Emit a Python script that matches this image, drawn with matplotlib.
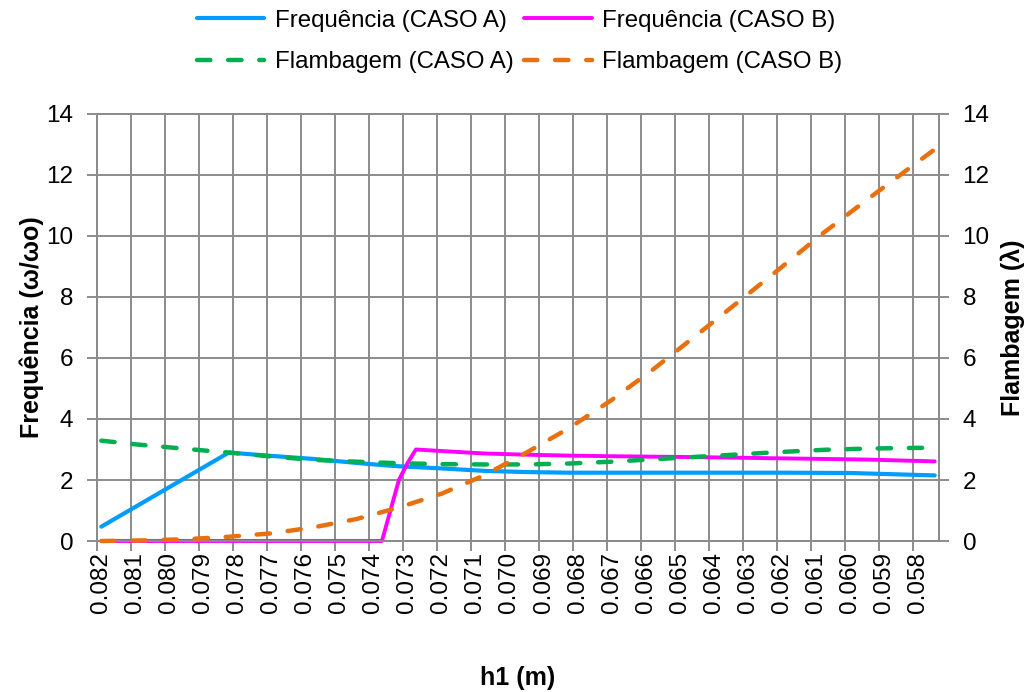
import matplotlib
matplotlib.use("Agg")
import matplotlib.pyplot as plt
import numpy as np

plt.rcParams['font.family'] = ['Liberation Sans', 'DejaVu Sans']

# categorias do eixo x (h1 de 0.082 até 0.0575, passo 0.00025) -> índice 0..98
n_cat = 99
rotulos_h1 = ['0.082', '0.081', '0.080', '0.079', '0.078', '0.077', '0.076', '0.075',
              '0.074', '0.073', '0.072', '0.071', '0.070', '0.069', '0.068', '0.067',
              '0.066', '0.065', '0.064', '0.063', '0.062', '0.061', '0.060', '0.059',
              '0.058']

# Frequência (CASO A)
freq_a_idx = [0, 15, 20, 25, 30, 33, 35, 40, 45, 50, 55, 60, 70, 80, 88, 93, 98]
freq_a = [0.47, 2.90, 2.79, 2.69, 2.56, 2.49, 2.45, 2.38, 2.30, 2.26, 2.24, 2.24,
          2.24, 2.24, 2.23, 2.19, 2.15]

# Frequência (CASO B)
freq_b_idx = [0, 33, 34, 35, 36, 37, 40, 45, 50, 55, 60, 70, 80, 90, 98]
freq_b = [0.0, 0.0, 1.0, 2.0, 2.55, 3.0, 2.95, 2.87, 2.83, 2.80, 2.78, 2.75, 2.71,
          2.67, 2.61]

# Flambagem (CASO A)
flamb_a_idx = [0, 4, 8, 12, 15, 20, 25, 30, 35, 40, 45, 50, 55, 60, 65, 70, 75, 80,
               85, 90, 95, 98]
flamb_a = [3.29, 3.17, 3.07, 2.97, 2.90, 2.77, 2.66, 2.60, 2.55, 2.52, 2.51, 2.51,
           2.54, 2.60, 2.68, 2.76, 2.84, 2.92, 2.99, 3.03, 3.05, 3.06]

# Flambagem (CASO B)
flamb_b_idx = [0, 5, 10, 15, 20, 25, 30, 35, 40, 45, 50, 55, 60, 65, 70, 75, 80, 85,
               90, 95, 98]
flamb_b = [0.0, 0.02, 0.06, 0.14, 0.25, 0.45, 0.72, 1.10, 1.55, 2.15, 2.90, 3.70,
           4.62, 5.65, 6.75, 7.86, 8.98, 10.12, 11.18, 12.22, 12.84]

cinza = '#8c8c8c'
fs_tick = 17.5
fs_leg = 17.3
fs_lab = 18

fig = plt.figure(figsize=(10.29, 6.92), dpi=100)
ax = fig.add_axes([0.0943, 0.2182, 0.9125 - 0.0943, 0.8353 - 0.2182])
ax2 = ax.twinx()

l1, = ax.plot(freq_a_idx, freq_a, color='#009dff', lw=3.0, solid_capstyle='round',
              label='Frequência (CASO A)', zorder=3, clip_on=False)
l2, = ax.plot(freq_b_idx, freq_b, color='#ff00ff', lw=2.8, solid_capstyle='round',
              label='Frequência (CASO B)', zorder=3, clip_on=False)
l3, = ax2.plot(flamb_a_idx, flamb_a, color='#00b050', lw=3.2, dashes=(3.0, 4.0),
               dash_capstyle='round', label='Flambagem (CASO A)', zorder=3,
               clip_on=False)
l4, = ax2.plot(flamb_b_idx, flamb_b, color='#e8700f', lw=3.2, dashes=(3.0, 4.0),
               dash_capstyle='round', label='Flambagem (CASO B)', zorder=3,
               clip_on=False)

for a in (ax, ax2):
    a.set_xlim(-0.5, n_cat - 0.5)
    a.set_ylim(0, 14)
    a.set_yticks(np.arange(0, 15, 2))
    for s in a.spines.values():
        s.set_color(cinza)
        s.set_linewidth(1.4)

# grade vertical nas bordas das categorias, rótulos no centro
grade_x = np.arange(0, n_cat, 4) - 0.5
ax.set_xticks(grade_x)
ax.set_xticklabels([])
ax.set_xticks(np.arange(0, n_cat, 4), minor=True)
ax.set_xticklabels(rotulos_h1, minor=True, rotation=90, fontsize=fs_tick)
ax.tick_params(axis='x', which='major', length=7, width=1.4, color=cinza)
ax.tick_params(axis='x', which='minor', length=0, pad=8)
ax.tick_params(axis='y', length=7, width=1.4, color=cinza, labelsize=fs_tick, pad=10)
ax2.tick_params(axis='y', length=7, width=1.4, color=cinza, labelsize=fs_tick, pad=10)
ax.grid(True, which='major', color=cinza, lw=1.4)
ax.set_axisbelow(True)

ax.set_ylabel('Frequência (ω/ωo)', fontsize=fs_lab, fontweight='bold', labelpad=2)
ax2.set_ylabel('Flambagem (λ)', fontsize=fs_lab, fontweight='bold', labelpad=8)
ax.set_xlabel('h1 (m)', fontsize=fs_lab, fontweight='bold', labelpad=38)

fig.legend(handles=[l1, l3, l2, l4], loc='center', bbox_to_anchor=(0.505, 0.94),
           ncol=2, frameon=False, fontsize=fs_leg, handlelength=2.8,
           handletextpad=0.45, columnspacing=0.45, labelspacing=0.8)

fig.savefig('out.png', dpi=100)
